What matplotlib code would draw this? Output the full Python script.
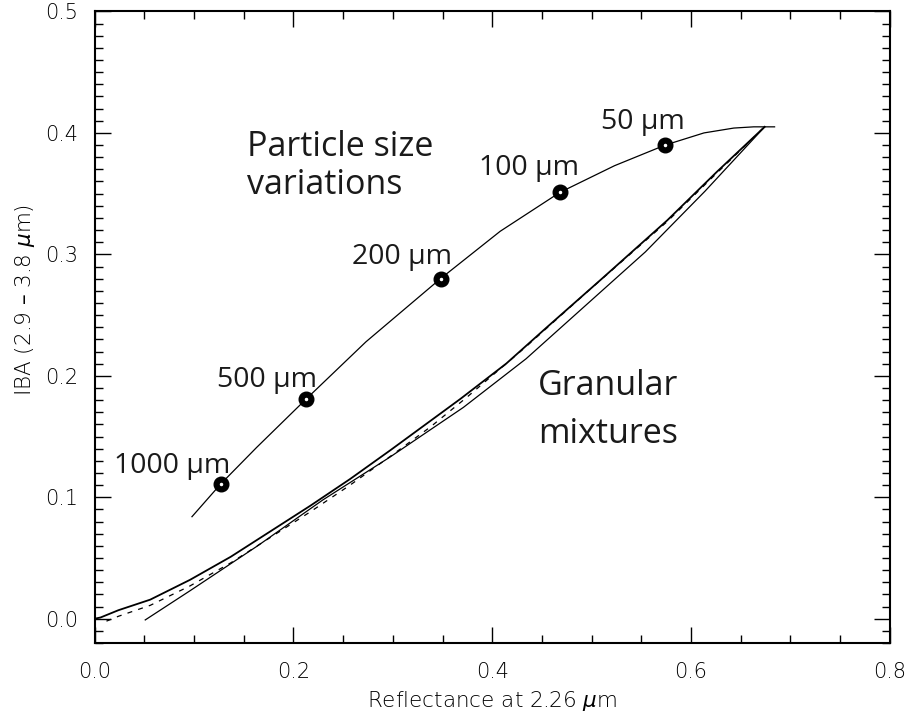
import matplotlib
matplotlib.use("Agg")
import matplotlib.pyplot as plt
from matplotlib.ticker import MultipleLocator

# particle-size curve
size_x = [0.098, 0.127, 0.163, 0.213, 0.273, 0.348, 0.408, 0.468, 0.523, 0.574, 0.613, 0.643, 0.663, 0.684]
size_y = [0.084, 0.111, 0.141, 0.181, 0.228, 0.280, 0.319, 0.351, 0.373, 0.390, 0.400, 0.404, 0.405, 0.405]

# labelled grain sizes
dot_labels = ["1000 μm", "500 μm", "200 μm", "100 μm", "50 μm"]
dot_x = [0.127, 0.213, 0.348, 0.468, 0.574]
dot_y = [0.111, 0.181, 0.280, 0.351, 0.390]

# granular mixture curves
mix_a_x = [0.0, 0.006, 0.024, 0.056, 0.096, 0.137, 0.177, 0.217, 0.257, 0.298, 0.338, 0.368, 0.414, 0.455, 0.509, 0.576, 0.626, 0.674]
mix_a_y = [0.0, 0.001, 0.007, 0.0157, 0.032, 0.051, 0.072, 0.093, 0.115, 0.139, 0.163, 0.181, 0.210, 0.240, 0.279, 0.328, 0.368, 0.405]

mix_b_x = [0.012, 0.024, 0.056, 0.096, 0.137, 0.177, 0.217, 0.257, 0.298, 0.338, 0.374, 0.434, 0.494, 0.576, 0.626, 0.674]
mix_b_y = [-0.002, 0.002, 0.011, 0.027, 0.046, 0.067, 0.088, 0.110, 0.134, 0.158, 0.182, 0.224, 0.268, 0.327, 0.367, 0.405]

mix_c_x = [0.051, 0.096, 0.164, 0.230, 0.297, 0.371, 0.434, 0.494, 0.554, 0.614, 0.674]
mix_c_y = [-0.001, 0.023, 0.060, 0.098, 0.133, 0.174, 0.214, 0.258, 0.302, 0.352, 0.405]

# label offsets from each dot, in points
label_dx = [-35, -28, -28, -22, -16]
label_dy = [8, 8.6, 10.8, 12.2, 11.5]

plt.rcParams["font.family"] = "DejaVu Sans"
fig = plt.figure(figsize=(9.09, 7.12), dpi=100)
ax = fig.add_axes([0.104, 0.0969, 0.875, 0.887])

lw = 0.9
ax.plot(size_x, size_y, color="black", lw=lw)
ax.plot(mix_a_x, mix_a_y, color="black", lw=1.3)
ax.plot(mix_b_x, mix_b_y, color="black", lw=lw, ls=(0, (4, 5)))
ax.plot(mix_c_x, mix_c_y, color="black", lw=lw)

ax.plot(dot_x, dot_y, "o", color="black", ms=10.5, zorder=3)
ax.plot(dot_x, dot_y, "o", color="white", ms=1.5, zorder=4)

label_font = "Open Sans"
text_color = "#1a1a1a"
for lbl, x, y, dx, dy in zip(dot_labels, dot_x, dot_y, label_dx, label_dy):
    ax.annotate(lbl, (x, y), xytext=(dx, dy), textcoords="offset points",
                ha="center", va="baseline", fontsize=20.5, family=label_font,
                color=text_color)

ax.text(0.153, 0.381, "Particle size", fontsize=24.5, family=label_font, color=text_color)
ax.text(0.153, 0.350, "variations", fontsize=24.5, family=label_font, color=text_color)
ax.text(0.446, 0.184, "Granular", fontsize=24.5, family=label_font, color=text_color)
ax.text(0.446, 0.145, "mixtures", fontsize=24.5, family=label_font, color=text_color)

ax.set_xlim(0, 0.8)
ax.set_ylim(-0.02, 0.5)
ax.xaxis.set_major_locator(MultipleLocator(0.2))
ax.xaxis.set_minor_locator(MultipleLocator(0.05))
ax.yaxis.set_major_locator(MultipleLocator(0.1))
ax.yaxis.set_minor_locator(MultipleLocator(0.01))
ax.tick_params(which="both", direction="in", top=True, right=True, width=1.0,
               labelsize=15)
ax.tick_params(axis="y", pad=12)
ax.tick_params(axis="x", pad=14)
ax.tick_params(which="major", length=11.5)
ax.tick_params(which="minor", length=6)
for lab in ax.get_xticklabels() + ax.get_yticklabels():
    lab.set_fontweight("light")
for s in ax.spines.values():
    s.set_linewidth(1.5)

ax.set_xlabel("Reflectance at 2.26 $\\mu$m", fontsize=15.5, fontweight="light")
ax.set_ylabel("IBA (2.9 – 3.8 $\\mu$m)", fontsize=15.5, fontweight="light")
ax.yaxis.set_label_coords(-0.072, 0.543)
ax.xaxis.set_label_coords(0.5, -0.073)

fig.savefig("out.png", dpi=100)
